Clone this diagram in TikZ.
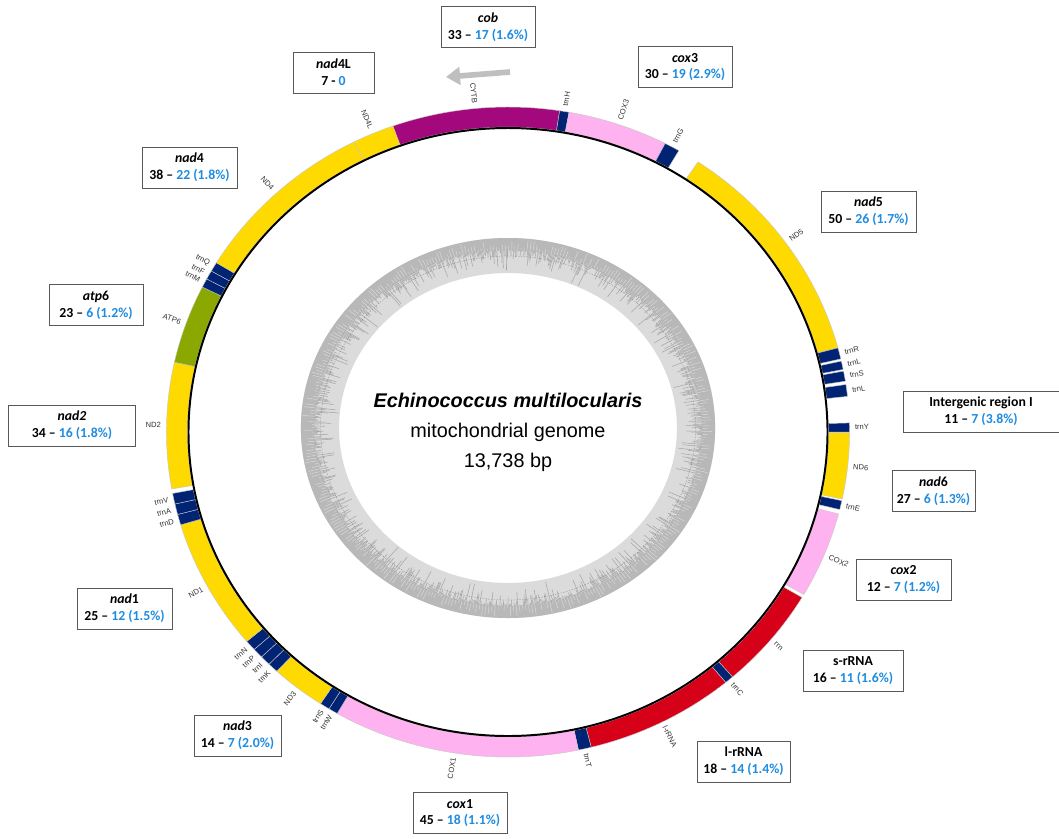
\documentclass[tikz,border=0pt]{standalone}
\usepackage{fontspec}
\setmainfont{Liberation Sans}
\newfontfamily\boxfont{Carlito}
\usepackage{xcolor}
\usepackage{tikz}
\usetikzlibrary{arrows.meta}

\definecolor{ndyellow}{RGB}{255,218,0}
\definecolor{cobpurple}{RGB}{163,8,125}
\definecolor{coxpink}{RGB}{255,178,240}
\definecolor{trnnavy}{RGB}{0,35,115}
\definecolor{rrnred}{RGB}{214,0,24}
\definecolor{atpgreen}{RGB}{138,168,0}
\definecolor{pctblue}{RGB}{30,140,225}

\tikzstyle{seg} = [draw=gray!45, line width=0.3pt]
\tikzstyle{genelab} = [font=\fontsize{5.4}{6}\selectfont, inner sep=0pt, text=black!80]
\tikzstyle{countbox} = [rectangle, draw=black!65, fill=white, line width=0.6pt, minimum height=1.025cm, align=center, inner sep=1pt, font=\boxfont\bfseries\fontsize{9.8}{11.9}\selectfont]
\tikzstyle{bigarrow} = [line width=4pt, draw=gray!50, -{Triangle[length=10pt,width=12.5pt]}]
\tikzstyle{title} = [font=\fontsize{14.1}{16}\selectfont]
\tikzstyle{gcbar} = [gray!68, line width=0.4pt]
\tikzstyle{gcgap} = [gray!30, line width=0.35pt]

\newcommand{\cnt}[2]{#1 – \textcolor{pctblue}{#2}}

\begin{document}
\begin{tikzpicture}[x=0.025cm, y=-0.025cm]
\useasboundingbox (0,0) rectangle (1059,838);
\fill[white] (0,0) rectangle (1059,838);

% GC ring
\begin{scope}[shift={(508,428)}, xscale=1.09]
\fill[gray!28, even odd rule] (0,0) circle[radius=190] (0,0) circle[radius=155];
\fill[gray!56, even odd rule] (0,0) circle[radius=190] (0,0) circle[radius=178];
\pgfmathsetseed{7}
\foreach \a in {0,0.35,...,359.9} {
  \pgfmathsetmacro\rr{178-23*rnd*rnd}
  \draw[gcbar] (\a:178.5) -- (\a:\rr);
}
\foreach \a in {0.2,1.1,...,359.9} {
  \pgfmathsetmacro\rr{189-10*rnd}
  \draw[gcgap] (\a:178) -- (\a:\rr);
}
\draw[black!50, line width=0.2pt, dash pattern=on 1pt off 1pt] (0,0) circle[radius=172];
\end{scope}

% Genes
\begin{scope}[shift={(508,432)}, xscale=1.051]
\foreach \from/\to/\col/\name/\lab in {
  -19.7/8.7/cobpurple/CYTB/CYTB,
  8.7/10.3/trnnavy/trnH/trnH,
  10.3/27.4/coxpink/COX3/COX3,
  27.4/30.0/trnnavy/trnG/trnG,
  33.8/75.0/ndyellow/ND5/ND5,
  75.0/77.0/trnnavy/trnR/trnR,
  77.4/78.9/trnnavy/trnLa/trnL,
  79.2/81.0/trnnavy/trnSa/trnS,
  81.6/83.7/trnnavy/trnLb/trnL,
  88.4/90.0/trnnavy/trnY/trnY,
  90.1/101.9/ndyellow/ND6/ND6,
  102.2/103.8/trnnavy/trnE/trnE,
  104.6/120.0/coxpink/COX2/COX2,
  120.6/138.9/rrnred/rrnS/rrn,
  138.9/140.4/trnnavy/trnC/trnC,
  140.4/165.9/rrnred/rrnL/l-rRNA,
  165.9/168.1/trnnavy/trnT/trnT,
  168.1/210.0/coxpink/COX1/COX1,
  210.0/211.6/trnnavy/trnW/trnW,
  211.6/213.3/trnnavy/trnSb/trnS,
  213.3/222.6/ndyellow/ND3/ND3,
  222.6/224.4/trnnavy/trnK/trnK,
  224.4/226.2/trnnavy/trnI/trnI,
  226.2/228.0/trnnavy/trnP/trnP,
  228.0/229.9/trnnavy/trnN/trnN,
  229.9/253.4/ndyellow/ND1/ND1,
  253.4/255.3/trnnavy/trnD/trnD,
  255.3/257.2/trnnavy/trnA/trnA,
  257.2/259.1/trnnavy/trnV/trnV,
  259.9/282.4/ndyellow/ND2/ND2,
  282.4/296.5/atpgreen/ATP6/ATP6,
  296.5/298.1/trnnavy/trnM/trnM,
  298.1/299.7/trnnavy/trnF/trnF,
  299.7/301.4/trnnavy/trnQ/trnQ,
  301.4/333.2/ndyellow/ND4/ND4,
  333.2/340.3/ndyellow/ND4L/ND4L} {
  \draw[seg, fill=\col] ({\from-90}:305) arc[start angle={\from-90}, end angle={\to-90}, radius=305]
    -- ({\to-90}:325) arc[start angle={\to-90}, end angle={\from-90}, radius=325] -- cycle;
  \pgfmathsetmacro\mid{(\from+\to)/2}
  \pgfmathtruncatemacro\side{mod(\mid+360,360)<180 ? 1 : 0}
  \ifnum\side=1
    \node[genelab, anchor=west, rotate={90-\mid}] (lab-\name) at ({\mid-90}:330) {\lab};
  \else
    \node[genelab, anchor=east, rotate={270-\mid}] (lab-\name) at ({\mid-90}:330) {\lab};
  \fi
}
\draw[line width=1.4pt] (0,0) circle[radius=304];
\end{scope}

% Centre title
\node[title] (species) at (508,400) {\bfseries\itshape Echinococcus multilocularis};
\node[title] (molecule) at (508,432) {mitochondrial genome};
\node[title] (length) at (508,462) {13,738 bp};

% Direction of transcription
\coordinate (dirtail) at (510,72);
\coordinate (dirtip) at (446,77);
\draw[bigarrow] (dirtail) -- (dirtip);

% Count boxes
\node (cob) [countbox, minimum width=2.35cm] at (488,27) {\textit{cob}\\\cnt{33}{17 (1.6\%)}};
\node (nad4L) [countbox, minimum width=2.025cm] at (333.5,72.5) {\textit{nad}4L\\7 - \textcolor{pctblue}{0}};
\node (cox3) [countbox, minimum width=2.35cm] at (685,67) {\textit{cox}3\\\cnt{30}{19 (2.9\%)}};
\node (nad4) [countbox, minimum width=2.375cm] at (189.5,167.5) {\textit{nad}4\\\cnt{38}{22 (1.8\%)}};
\node (atp6) [countbox, minimum width=2.35cm] at (96,305) {\textit{atp}6\\\cnt{23}{6 (1.2\%)}};
\node (nad2) [countbox, minimum width=3.175cm] at (72,425.5) {\textit{nad2}\\\cnt{34}{16 (1.8\%)}};
\node (nad5) [countbox, minimum width=2.375cm] at (868.5,211.5) {\textit{nad}5\\\cnt{50}{26 (1.7\%)}};
\node (igr) [countbox, minimum width=3.9cm] at (981,411.5) {Intergenic region I\\\cnt{11}{7 (3.8\%)}};
\node (nad6) [countbox, minimum width=2.075cm] at (933.5,491) {\textit{nad}6\\\cnt{27}{6 (1.3\%)}};
\node (cox2) [countbox, minimum width=2.375cm] at (903.5,579.5) {\textit{cox}2\\\cnt{12}{7 (1.2\%)}};
\node (srrna) [countbox, minimum width=2.5cm] at (853,670.5) {s-rRNA\\\cnt{16}{11 (1.6\%)}};
\node (lrrna) [countbox, minimum width=2.325cm] at (743.5,761.5) {l-rRNA\\\cnt{18}{14 (1.4\%)}};
\node (nad1) [countbox, minimum width=2.375cm] at (124.5,608.5) {\textit{nad}1\\\cnt{25}{12 (1.5\%)}};
\node (nad3) [countbox, minimum width=2.175cm] at (237.5,735.5) {\textit{nad}3\\\cnt{14}{7 (2.0\%)}};
\node (cox1) [countbox, minimum width=2.35cm] at (460,813) {\textit{cox}1\\\cnt{45}{18 (1.1\%)}};

\end{tikzpicture}
\end{document}
